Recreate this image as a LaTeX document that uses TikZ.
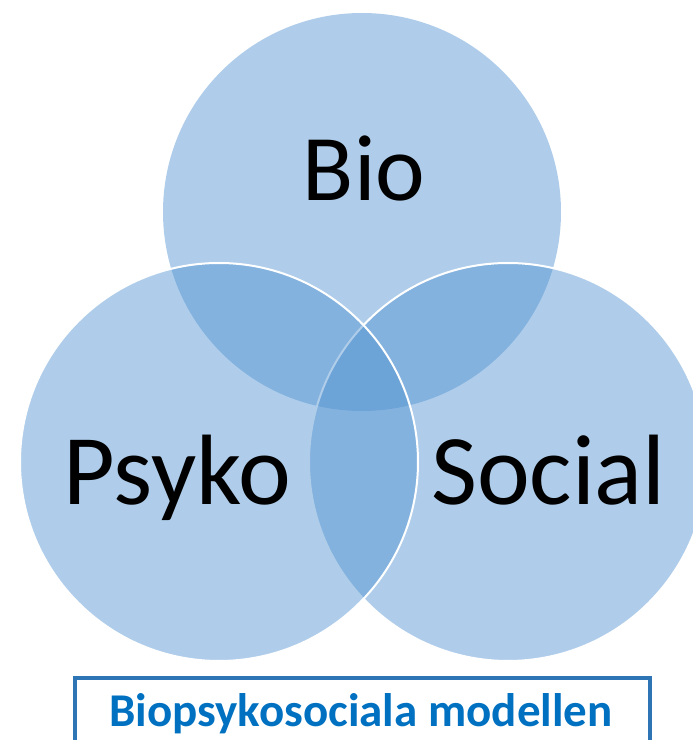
\documentclass[tikz,border=0pt]{standalone}
\usepackage{fontspec}
\setmainfont{Carlito}
\definecolor{circfill}{RGB}{81,146,209}
\definecolor{boxline}{RGB}{46,117,182}
\definecolor{titleblue}{RGB}{0,112,192}
\begin{document}
\begin{tikzpicture}[x=1pt,y=1pt]
        \tikzstyle{set}=[circle,inner sep=0pt,minimum size=398pt,fill=circfill,fill opacity=0.46]
        \tikzstyle{rim}=[draw=white,line width=2pt]
        \tikzstyle{word}=[anchor=base,inner sep=0pt,font=\fontsize{100}{106}\selectfont]
        \useasboundingbox (0,0) rectangle (693,740);

        % the three sets
        \node[set] (bio) at (362,528) {};
        \node[set,rim] (social) at (508,278) {};
        \node[set,rim] (psyko) at (219,278) {};

        \node[word,font=\fontsize{94}{100}\selectfont] (biotext) at (364,539) {Bio};
        \node[word] (psykotext) at (177.5,235) {Psyko};
        \node[word] (socialtext) at (548.5,235) {Social};

        % caption box, cut at the bottom
        \draw[boxline,line width=4pt] (75,-20) -- (75,62) -- (650,62) -- (650,-20);
        \node[anchor=base,inner sep=0pt,text=titleblue,font=\fontsize{47}{52}\selectfont\bfseries] (title) at (361,13) {Biopsykosociala modellen};
\end{tikzpicture}
\end{document}
